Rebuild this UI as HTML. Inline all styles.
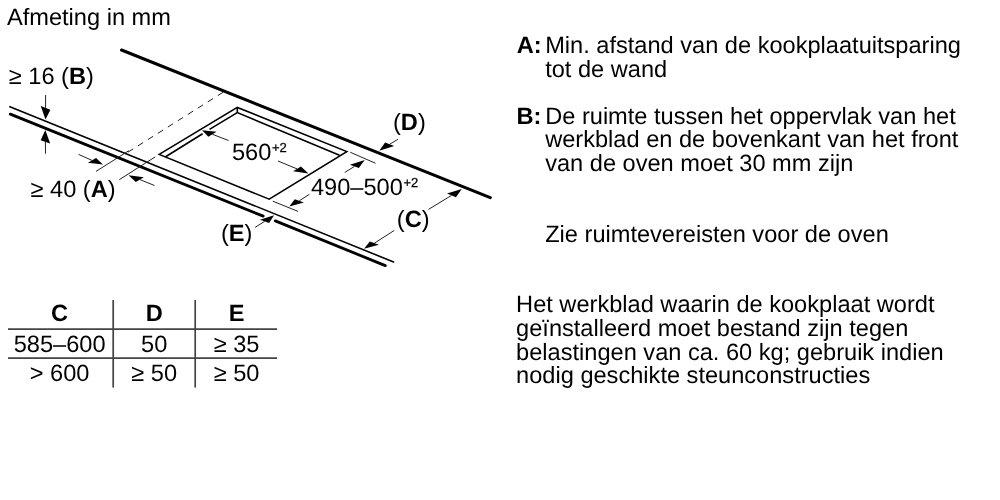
<!DOCTYPE html>
<html><head><meta charset="utf-8"><style>
html,body{margin:0;padding:0;background:#fff;width:1000px;height:500px;overflow:hidden}
svg{display:block;filter:grayscale(1)}
text{text-rendering:geometricPrecision;font-family:"Liberation Sans",sans-serif;font-size:23.6px;fill:#000}
.b{font-weight:bold}
.sup{font-size:13px;stroke:#000;stroke-width:0.25px}
</style></head><body>
<svg width="1000" height="500" viewBox="0 0 1000 500">
<rect width="1000" height="500" fill="#fff"/>

<g stroke="#000" fill="none" stroke-linecap="round" stroke-linejoin="miter">
  <line x1="121.5" y1="50" x2="490.3" y2="197.7" stroke-width="3.0"/>
  <line x1="9.9" y1="106.7" x2="393.6" y2="262" stroke-width="1.6"/>
  <line x1="10.3" y1="114.1" x2="263.2" y2="216.1" stroke-width="2.8"/>
  <line x1="275.3" y1="220.9" x2="385.3" y2="265.6" stroke-width="2.8"/>
  <polygon points="159.2,154.4 237.3,107.4 346.8,151.6 269.2,199.2" stroke-width="1.6"/>
  <polyline points="165.6,156.7 202.6,133.7" stroke-width="1.6" stroke-linecap="butt"/>
  <polyline points="209.5,129.4 237.3,112.6 339.5,155.3" stroke-width="1.6" stroke-linecap="butt"/>
  <line x1="237.3" y1="107.4" x2="237.3" y2="112.6" stroke-width="1.6" stroke-linecap="butt"/>
</g>
<g stroke="#222" fill="none" stroke-width="1.0" stroke-linecap="butt">
  <line x1="223" y1="92.3" x2="127.9" y2="152.2" stroke-dasharray="6.2,5.6"/>
  <line x1="96" y1="171.4" x2="128.8" y2="150.7"/>
  <line x1="119.4" y1="179.6" x2="155.2" y2="156.9"/>
  <line x1="350.25" y1="152.25" x2="375.5" y2="163.25"/>
  <line x1="272.8" y1="201.2" x2="298" y2="211.4"/>
</g>
<g stroke="#222" stroke-width="1.0" fill="none">
  <line x1="45.6" y1="95" x2="45.55" y2="107.88"/><line x1="45.5" y1="153.7" x2="45.41" y2="141.89"/><line x1="78.6" y1="154.4" x2="91.98" y2="160.39"/><line x1="154.5" y1="185.5" x2="139.84" y2="179.57"/><line x1="228.5" y1="140.5" x2="212.48" y2="134.3"/><line x1="278" y1="161" x2="297.02" y2="168.91"/><line x1="344.75" y1="172.5" x2="354.36" y2="166.48"/><line x1="309.4" y1="194.3" x2="299.34" y2="200.77"/><line x1="397.9" y1="139.3" x2="389.67" y2="144.27"/><line x1="428.5" y1="209.4" x2="451.49" y2="195.42"/><line x1="394.3" y1="230.4" x2="374.37" y2="243.19"/><line x1="255.1" y1="227.4" x2="264.6" y2="221.4"/>
</g>
<g fill="#000" stroke="none">
  <polygon points="45.5,119.6 40.75,105.99 50.36,109.77"/><polygon points="45.3,129.9 40.66,140.27 50.16,143.51"/><polygon points="103,164.6 87.88,162.87 96.09,157.9"/><polygon points="128.5,175.25 143.89,177.14 135.79,182"/><polygon points="202,130.25 216.58,131.87 208.37,136.73"/><polygon points="308.5,173.5 293.11,171.34 300.94,166.48"/><polygon points="364.75,160 349.9,164.86 358.81,168.1"/><polygon points="289.3,206.6 294.81,199.15 303.88,202.39"/><polygon points="379.3,150.7 385.13,142.6 394.2,145.95"/><polygon points="461.7,189.1 447.01,193.53 455.98,197.31"/><polygon points="364,248.7 369.83,241.57 378.9,244.81"/><polygon points="274.05,215.3 260.06,219.84 269.14,222.97"/>
</g>


<text x="7" y="24.5">Afmeting in mm</text>
<text x="8.8" y="83.5">≥ 16 (<tspan class="b">B</tspan>)</text>
<text x="30.5" y="196.7">≥ 40 (<tspan class="b">A</tspan>)</text>
<text x="232" y="159.8">560<tspan class="sup" dx="0.6" dy="-8.1">+2</tspan></text>
<text x="311" y="194.6">490–500<tspan class="sup" dx="0.6" dy="-8.1">+2</tspan></text>
<text x="393" y="129.5">(<tspan class="b">D</tspan>)</text>
<text x="396.8" y="226.6">(<tspan class="b">C</tspan>)</text>
<text x="221" y="241">(<tspan class="b">E</tspan>)</text>
<g stroke="#444" stroke-width="1.7">
  <line x1="8" y1="329.1" x2="277.1" y2="329.1"/>
  <line x1="8" y1="358.2" x2="277.1" y2="358.2"/>
  <line x1="113.2" y1="300" x2="113.2" y2="387.6"/>
  <line x1="195.2" y1="300" x2="195.2" y2="387.6"/>
</g>
<g text-anchor="middle">
  <text class="b" x="59.4" y="320.7">C</text>
  <text class="b" x="154.2" y="320.7">D</text>
  <text class="b" x="236.5" y="320.7">E</text>
  <text x="59.6" y="352">585–600</text>
  <text x="154.2" y="352">50</text>
  <text x="236.5" y="352">≥ 35</text>
  <text x="59.6" y="381">&gt; 600</text>
  <text x="154.2" y="381">≥ 50</text>
  <text x="236.5" y="381">≥ 50</text>
</g>
<text class="b" x="516.8" y="53.4">A:</text>
<text x="545.2" y="53.4">Min. afstand van de kookplaatuitsparing</text>
<text x="545.2" y="77">tot de wand</text>
<text class="b" x="516.5" y="123.6">B:</text>
<text x="545.2" y="123.6">De ruimte tussen het oppervlak van het</text>
<text x="545.2" y="147.4">werkblad en de bovenkant van het front</text>
<text x="545.2" y="171.1">van de oven moet 30 mm zijn</text>
<text x="545.2" y="241.6">Zie ruimtevereisten voor de oven</text>
<text x="516.1" y="311.9">Het werkblad waarin de kookplaat wordt</text>
<text x="516.1" y="335.7">geïnstalleerd moet bestand zijn tegen</text>
<text x="516.1" y="359.5">belastingen van ca. 60 kg; gebruik indien</text>
<text x="516.1" y="383.3">nodig geschikte steunconstructies</text>

</svg>
</body></html>
